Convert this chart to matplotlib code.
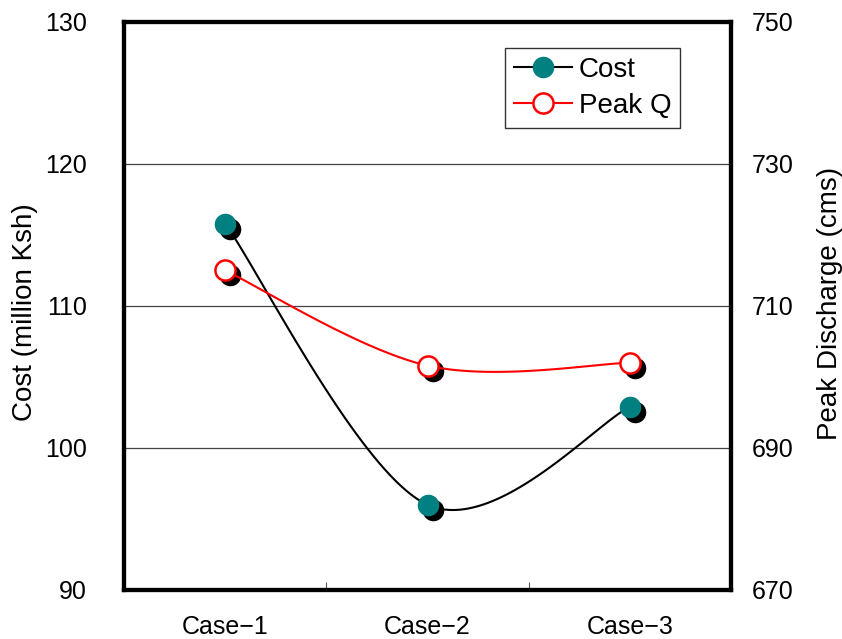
import matplotlib
matplotlib.use("Agg")
import matplotlib.pyplot as plt
import matplotlib.transforms as mtransforms
import numpy as np

plt.rcParams["font.family"] = ["Liberation Sans", "DejaVu Sans"]

# data
cases = ["Case\u22121", "Case\u22122", "Case\u22123"]
cost = [115.8, 96.0, 102.9]          # million Ksh
peak_q = [715.0, 701.6, 702.0]       # cms

TEAL = "#008080"
RED = "#FF0000"
MS = 14.5


def smooth_xy(xs, ys, n=60):
    """Excel-style smoothed line: cubic Bezier with neighbour-based tangents."""
    pts = np.column_stack([np.asarray(xs, float), np.asarray(ys, float)])
    m = len(pts)
    out = []
    for i in range(m - 1):
        p0 = pts[i]
        p3 = pts[i + 1]
        prev = pts[i - 1] if i > 0 else pts[i]
        nxt = pts[i + 2] if i + 2 < m else pts[i + 1]
        c1 = p0 + (p3 - prev) / 6.0
        c2 = p3 - (nxt - p0) / 6.0
        t = np.linspace(0, 1, n)[:, None]
        seg = ((1 - t) ** 3) * p0 + 3 * ((1 - t) ** 2) * t * c1 \
            + 3 * (1 - t) * t ** 2 * c2 + t ** 3 * p3
        out.append(seg if i == 0 else seg[1:])
    out = np.vstack(out)
    return out[:, 0], out[:, 1]


fig = plt.figure(figsize=(8.42, 6.39), dpi=100)
ax = fig.add_axes([0.1473, 0.0767, 0.7209, 0.8889])
ax2 = ax.twinx()

x = np.arange(len(cases))

ax.set_xlim(-0.5, 2.5)
ax.set_ylim(90, 130)
ax.set_yticks([90, 100, 110, 120, 130])
ax2.set_ylim(670, 750)
ax2.set_yticks([670, 690, 710, 730, 750])

# gridlines only at inner ticks
for yv in [100, 110, 120]:
    ax.axhline(yv, color="#444444", lw=0.9, zorder=0)

# black drop shadows behind markers
sh1 = mtransforms.offset_copy(ax.transData, fig=fig, x=5, y=-5, units="dots")
sh2 = mtransforms.offset_copy(ax2.transData, fig=fig, x=5, y=-5, units="dots")
ax.plot(x, cost, ls="none", marker="o", ms=MS, color="black",
        mec="black", transform=sh1, zorder=2)
ax2.plot(x, peak_q, ls="none", marker="o", ms=MS, color="black",
         mec="black", transform=sh2, zorder=2)

# smoothed series
cx, cy = smooth_xy(x, cost)
ax.plot(cx, cy, color="black", lw=1.5, zorder=3)
ax.plot(x, cost, ls="none", marker="o", ms=MS, mfc=TEAL, mec=TEAL, zorder=4)

px, py = smooth_xy(x, peak_q)
ax2.plot(px, py, color=RED, lw=1.5, zorder=3)
ax2.plot(x, peak_q, ls="none", marker="o", ms=MS, mfc="white", mec=RED,
         mew=1.8, zorder=4)

# legend
h1, = ax.plot([], [], color="black", lw=1.5, marker="o", ms=MS,
              mfc=TEAL, mec=TEAL, label="Cost")
h2, = ax.plot([], [], color=RED, lw=1.5, marker="o", ms=MS,
              mfc="white", mec=RED, mew=1.8, label="Peak Q")
leg = ax2.legend(handles=[h1, h2], loc="upper left",
                 bbox_to_anchor=(0.628, 0.954), fontsize=20,
                 frameon=True, fancybox=False, edgecolor="black",
                 handlelength=2.1, handletextpad=0.22, borderpad=0.32,
                 labelspacing=0.36, borderaxespad=0)
leg.get_frame().set_linewidth(1.0)

# axes cosmetics
for a in (ax, ax2):
    for sp in a.spines.values():
        sp.set_linewidth(3.0)
        sp.set_color("black")

ax.set_xticks(x)
ax.set_xticklabels(cases, fontsize=18)
ax.tick_params(axis="x", length=0, pad=18)
ax.set_xticks([0.5, 1.5], minor=True)
ax.tick_params(axis="x", which="minor", direction="in", length=6,
               width=0.8, color="#555555")
ax.tick_params(axis="y", length=0, pad=27, labelsize=18)
ax2.tick_params(axis="y", length=0, pad=15, labelsize=18)

ax.set_ylabel("Cost (million Ksh)", fontsize=20)
ax.yaxis.set_label_coords(-0.142, 0.49)
ax2.set_ylabel("Peak Discharge (cms)", fontsize=20)
ax2.yaxis.set_label_coords(1.142, 0.505)

fig.savefig("out.png", dpi=100)
